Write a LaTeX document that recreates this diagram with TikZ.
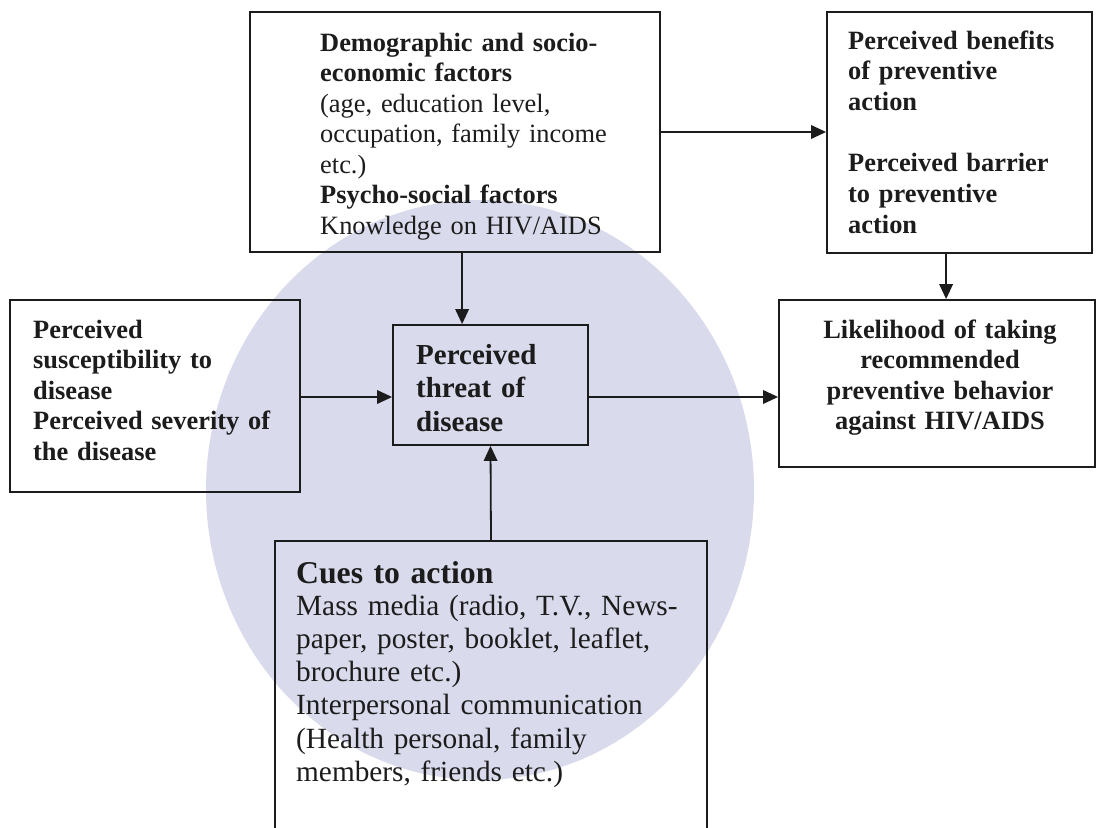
\documentclass[tikz,border=0pt]{standalone}
\usepackage{fontspec}
\setmainfont{Liberation Serif}
\usetikzlibrary{arrows.meta,calc}
\definecolor{seal}{HTML}{D9DAEC}
\definecolor{ink}{HTML}{1C1C1C}
\tikzset{
  boxnode/.style={draw=ink, line width=1.8pt, rectangle, inner sep=0pt, minimum width=#1},
  txt/.style={inner sep=0pt, text=ink, align=left, font=\fontsize{26.4}{30.5}\selectfont},
  arr/.style={draw=ink, line width=1.8pt, -{Triangle[length=15pt,width=13.5pt]}}
}
\begin{document}
\begin{tikzpicture}[x=1pt,y=-1pt]
\useasboundingbox (0,0) rectangle (1096,828);
\clip (0,0) rectangle (1096,828);
\fill[seal] (480,490) ellipse [x radius=274, y radius=290];
% boxes
\node[boxnode=410pt, minimum height=240pt] (demo) at (455,132) {};
\node[boxnode=265pt, minimum height=241pt] (benefits) at (959.5,132.5) {};
\node[boxnode=290pt, minimum height=192pt] (left) at (155,396) {};
\node[boxnode=195pt, minimum height=120pt] (threat) at (490.5,385) {};
\node[boxnode=316pt, minimum height=167pt] (like) at (937,383.5) {};
\node[boxnode=432pt, minimum height=309pt] (cues) at (491,695.5) {};
% texts
\node[txt, text width=330pt, anchor=base west] (demotext) at (320,51)
  {\textbf{Demographic and socio-}\\ \textbf{economic factors}\\ (age, education level,\\ occupation, family income\\ etc.)\\ \textbf{Psycho-social factors}\\ Knowledge on HIV/AIDS};
\node[txt, text width=240pt, anchor=base west, font=\bfseries\fontsize{26.4}{30.7}\selectfont] (benefitstext) at (848,49)
  {Perceived benefits\\ of preventive\\ action\\[30.7pt] Perceived barrier\\ to preventive\\ action};
\node[txt, text width=260pt, anchor=base west, font=\bfseries\fontsize{26.4}{30.5}\selectfont] (lefttext) at (33,338)
  {Perceived\\ susceptibility to\\ disease\\ Perceived severity of\\ the disease};
\node[txt, text width=170pt, anchor=base west, font=\bfseries\fontsize{29}{33.5}\selectfont] (threattext) at (416,364)
  {Perceived\\ threat of\\ disease};
\node[txt, text width=300pt, anchor=base, align=center, font=\bfseries\fontsize{26.4}{30.5}\selectfont] (liketext) at (940,338)
  {Likelihood of taking\\ recommended\\ preventive behavior\\ against HIV/AIDS};
\node[txt, text width=400pt, anchor=base west, font=\bfseries\fontsize{31.7}{34}\selectfont] (cuestitle) at (296,583)
  {Cues to action};
\node[txt, text width=400pt, anchor=base west, font=\fontsize{29.3}{33.3}\selectfont] (cuestext) at (296,615)
  {Mass media (radio, T.V., News-\\ paper, poster, booklet, leaflet,\\ brochure etc.)\\ Interpersonal communication\\ (Health personal, family\\ members, friends etc.)};
% connectors
\coordinate (t1) at ($(threat.north west)+(70,0)$);
\coordinate (b1) at ($(like.north west)+(168,0)$);
\coordinate (r1) at ($(left.east)+(0,1)$);
\draw[arr] (demo.east) -- (demo.east -| benefits.west);
\draw[arr] (t1 |- demo.south) -- (t1);
\draw[arr] (r1) -- (r1 -| threat.west);
\draw[arr] (r1 -| threat.east) -- (r1 -| like.west);
\draw[arr] (b1 |- benefits.south) -- (b1);
\draw[arr] (cues.north) -- (threat.south);
\end{tikzpicture}
\end{document}
